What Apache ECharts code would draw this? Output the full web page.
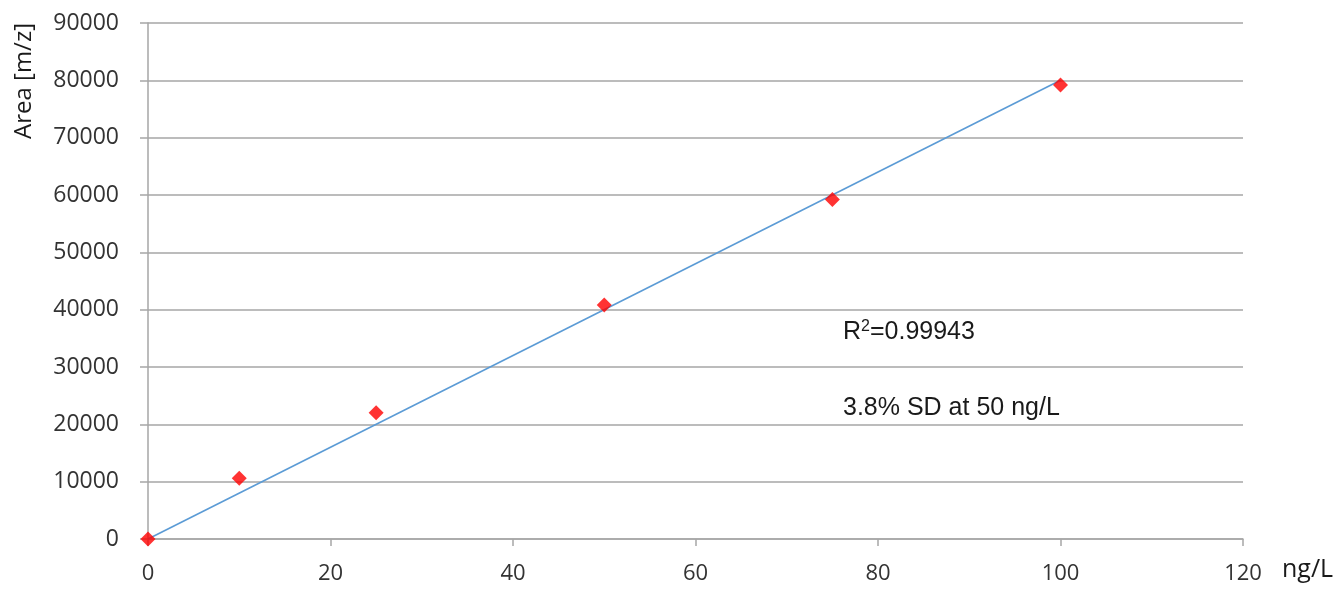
<!DOCTYPE html>
<html>
<head>
<meta charset="utf-8">
<script src="https://cdn.jsdelivr.net/npm/echarts@6/dist/echarts.min.js"></script>
<style>
  html, body { margin: 0; padding: 0; background: #fff; }
  #chart { width: 1338px; height: 589px; }
</style>
</head>
<body>
<div id="chart"></div>
<script>
// concentration (ng/L) and measured peak area
var concentrations = [0, 10, 25, 50, 75, 100]
var areas = [0, 10600, 22000, 40800, 59200, 79200]
// linear trend line endpoints
var trendX = [0, 100]
var trendY = [0, 80000]
var xTicks = [0, 20, 40, 60, 80, 100, 120]
var yTicks = [0, 10000, 20000, 30000, 40000, 50000, 60000, 70000, 80000, 90000]

var chart = echarts.init(document.getElementById('chart'))

var gridColor = '#a6a6a6'
var labelFont = '"Open Sans", "Noto Sans", sans-serif'
var noteFont = '"Liberation Sans", Arial, sans-serif'

var option = {
  animation: false,
  grid: {
    left: 148,
    right: 95,
    top: 23,
    bottom: 50
  },
  xAxis: {
    type: 'value',
    min: xTicks[0],
    max: xTicks[xTicks.length - 1],
    interval: 20,
    name: 'ng/L',
    nameLocation: 'end',
    nameGap: 39,
    nameTextStyle: {
      color: '#1a1a1a',
      fontSize: 25,
      fontFamily: labelFont,
      align: 'left',
      verticalAlign: 'top',
      padding: [18, 0, 0, 0]
    },
    axisLine: { show: true, lineStyle: { color: gridColor, width: 1.5 } },
    axisTick: { show: true, length: 7, lineStyle: { color: gridColor, width: 1.5 } },
    axisLabel: {
      color: '#333',
      fontSize: 22,
      fontFamily: labelFont,
      margin: 24,
      formatter: function (v) { return String(v) }
    },
    splitLine: { show: false }
  },
  yAxis: {
    type: 'value',
    min: yTicks[0],
    max: yTicks[yTicks.length - 1],
    interval: 10000,
    name: 'Area [m/z]',
    nameLocation: 'end',
    nameRotate: 90,
    nameGap: 0,
    nameTextStyle: {
      color: '#1a1a1a',
      fontSize: 24,
      fontFamily: labelFont,
      align: 'right',
      verticalAlign: 'bottom',
      padding: [0, 0, 112, 0]
    },
    axisLine: { show: true, lineStyle: { color: gridColor, width: 1.5 } },
    axisTick: { show: true, inside: false, length: 8, lineStyle: { color: gridColor, width: 1.5 } },
    axisLabel: {
      color: '#333',
      fontSize: 23,
      fontFamily: labelFont,
      margin: 29,
      formatter: function (v) { return String(v) }
    },
    splitLine: { show: true, lineStyle: { color: gridColor, width: 1.5 } }
  },
  series: [
    {
      name: 'Trend',
      type: 'line',
      data: trendX.map(function (x, i) { return [x, trendY[i]] }),
      showSymbol: false,
      symbol: 'none',
      lineStyle: { color: '#5b9bd5', width: 1.6 },
      z: 2
    },
    {
      name: 'Area',
      type: 'scatter',
      data: concentrations.map(function (x, i) { return [x, areas[i]] }),
      symbol: 'diamond',
      symbolSize: [15, 15],
      itemStyle: { color: '#ff0000' },
      z: 3
    }
  ],
  graphic: [
    {
      type: 'text',
      left: 843,
      top: 319,
      style: {
        text: '{a|R}{s|2}{a|=0.99943}',
        rich: {
          a: { fontSize: 25, fontFamily: noteFont, fill: '#1a1a1a', verticalAlign: 'bottom' },
          s: { fontSize: 16, fontFamily: noteFont, fill: '#1a1a1a', verticalAlign: 'top', padding: [0, 0, 10, 0] }
        }
      }
    },
    {
      type: 'text',
      left: 843,
      top: 396,
      style: {
        text: '3.8% SD at 50 ng/L',
        fontSize: 25,
        fontFamily: noteFont,
        fill: '#1a1a1a'
      }
    }
  ]
}

chart.setOption(option)
</script>
</body>
</html>
